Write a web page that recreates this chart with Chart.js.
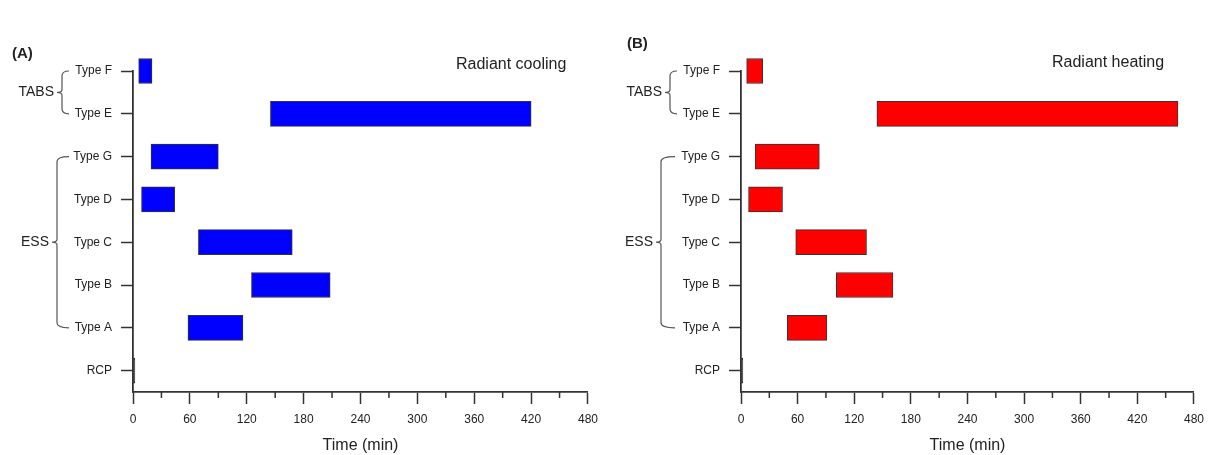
<!DOCTYPE html>
<html lang="en">
<head>
    <meta charset="UTF-8">
    <title>Radiant cooling / heating - response time</title>
    <script src="https://cdn.jsdelivr.net/npm/chart.js"></script>
    <style>
        body { margin: 0; background: #fff; }
        .panel { position: absolute; top: 0; width: 606px; height: 455px; }
    </style>
</head>
<body>
    <div class="panel" style="left:0"><canvas id="coolingChart"></canvas></div>
    <div class="panel" style="left:606px"><canvas id="heatingChart"></canvas></div>

    <script>
        // categories bottom -> top
        const categories = ['RCP', 'Type A', 'Type B', 'Type C', 'Type D', 'Type G', 'Type E', 'Type F'];

        // start / end time (min) of each system
        const coolingStart = [0, 58, 125, 69, 9, 19, 145, 6];
        const coolingEnd   = [2, 116, 208, 168, 44, 90, 420, 20];
        const heatingStart = [0, 49, 101, 58, 8, 15, 144, 6];
        const heatingEnd   = [2, 91, 161, 133, 44, 83, 463, 23];

        const timeTicks  = [0, 60, 120, 180, 240, 300, 360, 420, 480];
        const minorTicks = [30, 90, 150, 210, 270, 330, 390, 450];

        const groups = [
            { name: 'TABS', first: 'Type E', last: 'Type F' },
            { name: 'ESS', first: 'Type A', last: 'Type G' }
        ];

        const FONT = '"Liberation Sans", Arial, sans-serif';
        const INK = '#222';
        const AXIS = '#333';

        function toBars(starts, ends) {
            return categories.map((c, i) => ({ y: i, x: [starts[i], ends[i]] }));
        }

        // minor ticks, brackets and panel texts
        const decorPlugin = {
            id: 'decor',
            afterDraw(chart, args, opts) {
                const ctx = chart.ctx;
                const xs = chart.scales.x, ys = chart.scales.y;
                ctx.save();

                // minor ticks on the time axis
                ctx.strokeStyle = AXIS;
                ctx.lineWidth = 1.5;
                minorTicks.forEach(v => {
                    const px = xs.getPixelForValue(v);
                    ctx.beginPath();
                    ctx.moveTo(px, xs.top);
                    ctx.lineTo(px, xs.top + 6);
                    ctx.stroke();
                });

                // group brackets
                ctx.strokeStyle = '#555';
                ctx.lineWidth = 1.2;
                ctx.fillStyle = INK;
                ctx.font = '14px ' + FONT;
                ctx.textAlign = 'right';
                ctx.textBaseline = 'middle';
                groups.forEach((g, k) => {
                    const bx = opts.bracketX[k];
                    const top = ys.getPixelForValue(categories.indexOf(g.last));
                    const bot = ys.getPixelForValue(categories.indexOf(g.first));
                    const mid = (top + bot) / 2;
                    const r = 5;
                    ctx.beginPath();
                    ctx.moveTo(bx + opts.hook[k], top);
                    ctx.quadraticCurveTo(bx, top, bx, top + r);
                    ctx.lineTo(bx, mid - 3);
                    ctx.quadraticCurveTo(bx, mid, bx - 5, mid);
                    ctx.quadraticCurveTo(bx, mid, bx, mid + 3);
                    ctx.lineTo(bx, bot - r);
                    ctx.quadraticCurveTo(bx, bot, bx + opts.hook[k], bot);
                    ctx.stroke();
                    ctx.fillText(g.name, bx - 8, mid);
                });

                // panel letter and heading
                ctx.textAlign = 'left';
                ctx.font = 'bold 15px ' + FONT;
                ctx.fillText(opts.letter, opts.letterX, opts.letterY);
                ctx.font = '16px ' + FONT;
                ctx.fillText(opts.heading, opts.headingX, opts.headingY);
                ctx.restore();
            }
        };

        function makeChart(id, starts, ends, color, decor, yWidth, padRight) {
            return new Chart(document.getElementById(id), {
                type: 'bar',
                data: {
                    datasets: [{
                        data: toBars(starts, ends),
                        // the RCP mark is only a dark line on the axis
                        backgroundColor: categories.map(c => c === 'RCP' ? '#222' : color),
                        borderColor: '#333',
                        borderWidth: 1,
                        borderSkipped: false,
                        barThickness: 25,
                        clip: false
                    }]
                },
                options: {
                    indexAxis: 'y',
                    responsive: true,
                    maintainAspectRatio: false,
                    animation: false,
                    layout: { padding: { top: 71, right: padRight, left: 0, bottom: 0 } },
                    plugins: {
                        legend: { display: false },
                        tooltip: { enabled: false },
                        decor: decor
                    },
                    scales: {
                        x: {
                            type: 'linear',
                            min: 0,
                            max: 480,
                            afterBuildTicks: s => { s.ticks = timeTicks.map(v => ({ value: v })); },
                            afterFit: s => { s.height = 63; },
                            grid: { drawOnChartArea: false, tickLength: 12, tickColor: AXIS, tickWidth: 1.5 },
                            border: { color: AXIS, width: 1.8 },
                            ticks: { color: INK, font: { family: FONT, size: 12 }, padding: 8, maxRotation: 0 },
                            title: { display: true, text: 'Time (min)', color: INK, font: { family: FONT, size: 16 }, padding: { top: 0, bottom: 0 } }
                        },
                        y: {
                            type: 'linear',
                            min: -0.5,
                            max: 7,
                            offset: false,
                            afterBuildTicks: s => { s.ticks = categories.map((c, i) => ({ value: i })); },
                            afterFit: s => { s.width = yWidth; },
                            grid: { offset: false, drawOnChartArea: false, tickLength: 12, tickColor: AXIS, tickWidth: 1.5 },
                            border: { color: AXIS, width: 1.8 },
                            ticks: {
                                color: INK,
                                font: { family: FONT, size: 12 },
                                padding: 9,
                                callback: v => categories[v]
                            }
                        }
                    }
                },
                plugins: [decorPlugin]
            });
        }

        makeChart('coolingChart', coolingStart, coolingEnd, '#0000ff', {
            bracketX: [62, 57], hook: [7, 12],
            letter: '(A)', letterX: 12, letterY: 54,
            heading: 'Radiant cooling', headingX: 456, headingY: 65
        }, 133, 18);

        makeChart('heatingChart', heatingStart, heatingEnd, '#ff0000', {
            bracketX: [64, 55], hook: [7, 14],
            letter: '(B)', letterX: 21, letterY: 44,
            heading: 'Radiant heating', headingX: 446, headingY: 63
        }, 135, 17);
    </script>
</body>
</html>
